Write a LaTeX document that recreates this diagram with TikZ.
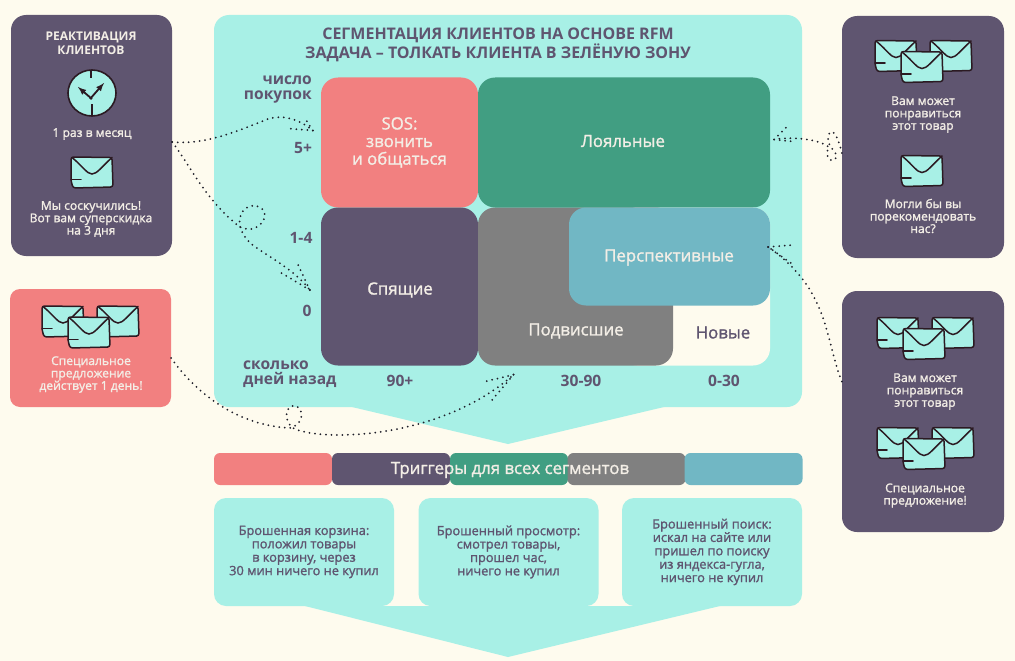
\documentclass[tikz,border=0pt]{standalone}
\usepackage{fontspec}
\setmainfont{Open Sans}[FakeBold=1.4]
\newfontfamily\hv{Open Sans}[UprightFont=* Bold]
\usetikzlibrary{calc}
\definecolor{bgc}{HTML}{FEFBEE}
\definecolor{mint}{HTML}{A8F0E6}
\definecolor{plum}{HTML}{5F5570}
\definecolor{coral}{HTML}{F28080}
\definecolor{teal}{HTML}{419E82}
\definecolor{graybox}{HTML}{808080}
\definecolor{bluebox}{HTML}{71B7C4}
\definecolor{ink}{HTML}{2B1A22}
\definecolor{lbl}{HTML}{F3EEE6}
\definecolor{dots}{HTML}{1F1F2A}
\tikzset{
  x=1pt,y=-1pt,
  panel/.style={rounded corners=15pt,inner sep=0pt,minimum width=#1},
  cell/.style={rounded corners=17pt,inner sep=0pt,text=lbl,align=center,font=\fontsize{16.8}{17.6}\selectfont},
  celltext/.style={text=lbl,inner sep=0pt,font=\fontsize{16.8}{18}\selectfont},
  bar/.style={rounded corners=6pt,inner sep=0pt,minimum width=118pt,minimum height=32pt},
  low/.style={rounded corners=12pt,fill=mint,inner sep=0pt,minimum width=180pt,minimum height=108pt,text=plum,align=center,font=\fontsize{12.8}{13.4}\selectfont},
  small/.style={text=lbl,align=center,inner sep=0pt,font=\fontsize{12.1}{12.4}\selectfont},
  axis/.style={text=plum,inner sep=0pt,font=\hv\fontsize{15.6}{15}\selectfont},
  dotline/.style={draw=dots,line width=2pt,line cap=round,dash pattern=on 0pt off 5.5pt},
  env/.pic={
    \draw[fill=mint,draw=ink,line width=1.5pt,rounded corners=2.5pt,line join=round]
      (-21,-15.5) -- (20,-15) -- (21,14.5) -- (-19,15.5) -- (-21,8) -- cycle;
    \draw[ink,line width=1.5pt,line cap=round]
      (-20,-15) .. controls (-9,-6) and (-5,1.5) .. (0,1.5) .. controls (5,1.5) and (10,-6) .. (20,-15);
    \draw[ink,line width=1.5pt,line cap=round] (-21,7) -- (-11,7);
  },
  triple/.pic={
    \pic at (-26,-11) {env};
    \pic at (29,-11) {env};
    \pic at (0,0) {env};
  }
}
\begin{document}
\begin{tikzpicture}
\useasboundingbox (0,0) rectangle (1015,661);
\fill[bgc] (0,0) rectangle (1015,661);
% main panel
\fill[mint,rounded corners=15pt] (214,407) -- (214,15) -- (802,15) -- (802,407) -- cycle;
\fill[mint] (352,407) -- (508,444) -- (664,407) -- cycle;
\node[text=plum,inner sep=0pt,align=center,font=\hv\fontsize{16}{18.5}\selectfont] (title) at (498,45) {СЕГМЕНТАЦИЯ КЛИЕНТОВ НА ОСНОВЕ RFM\\ЗАДАЧА – ТОЛКАТЬ КЛИЕНТА В ЗЕЛЁНУЮ ЗОНУ};
% side panels
\node[panel=161pt,fill=plum,minimum height=241pt] (lefttop) at (91.5,135.5) {};
\node[panel=161pt,fill=coral,minimum height=118pt,rounded corners=10pt] (leftred) at (90.5,348) {};
\node[panel=162pt,fill=plum,minimum height=242pt] (righttop) at (923,137) {};
\node[panel=162pt,fill=plum,minimum height=241pt] (rightlow) at (923,411.5) {};
% matrix
\node[cell,fill=coral,minimum width=157pt,minimum height=130pt] (sos) at (399.5,142.5) {SOS:\\звонить\\и общаться};
\node[cell,fill=teal,minimum width=292pt,minimum height=130pt] (loyal) at (624,142.5) {};
\node[celltext] (loyallbl) at (623,141) {Лояльные};
\node[cell,fill=plum,minimum width=157pt,minimum height=158pt] (sleep) at (399.5,286.5) {};
\node[celltext] (sleeplbl) at (400,290) {Спящие};
\node[cell,fill=bgc,minimum width=150pt,minimum height=158pt] (newc) at (695,286.5) {};
\node[cell,fill=graybox,minimum width=195pt,minimum height=158pt] (stuck) at (575.5,286.5) {};
\node[cell,fill=bluebox,minimum width=201pt,minimum height=98pt] (persp) at (669.5,256.5) {};
\node[celltext] (persplbl) at (669,257.5) {Перспективные};
\node[celltext] (stucklbl) at (576,331) {Подвисшие};
\node[celltext,text=plum] (newlbl) at (723,332.5) {Новые};
% axis labels
\node[axis,align=right,anchor=east] (purch) at (312,90) {число\\покупок};
\node[axis] (a5) at (303,148) {5+};
\node[axis] (a14) at (301,238) {1-4};
\node[axis] (a0) at (307,311) {0};
\node[axis,align=left,anchor=west] (days) at (243,374.5) {сколько\\дней назад};
\node[axis] (d90) at (400,381) {90+};
\node[axis] (d30) at (581,381) {30-90};
\node[axis] (d0) at (724,381) {0-30};
% bars
\node[bar,fill=coral] (b1) at (273,469) {};
\node[bar,fill=plum] (b2) at (391,469) {};
\node[bar,fill=teal] (b3) at (509,469) {};
\node[bar,fill=graybox] (b4) at (626.5,469) {};
\node[bar,fill=bluebox] (b5) at (743.5,469) {};
\node[celltext] (trig) at (510,470) {Триггеры для всех сегментов};
% lower boxes
\fill[mint] (305,606) -- (508,657) -- (720,606) -- cycle;
\node[low] (t1) at (304,552) {Брошенная корзина:\\положил товары\\в корзину, через\\30 мин ничего не купил};
\node[low] (t2) at (508.5,552) {Брошенный просмотр:\\смотрел товары,\\прошел час,\\ничего не купил};
\node[low] (t3) at (712,552) {Брошенный поиск:\\искал на сайте или\\пришел по поиску\\из яндекса-гугла,\\ничего не купил};
% left panel contents
\node[small,font=\hv\fontsize{12}{14}\selectfont] (react) at (91,43) {РЕАКТИВАЦИЯ\\КЛИЕНТОВ};
\draw[fill=mint,draw=ink,line width=1.6pt] (92,93) ellipse [x radius=24,y radius=23];
\draw[ink,line width=1.4pt] (91,70) -- (91,78) (92,104) -- (92,116);
\draw[ink,line width=1.8pt,-latex] (90,99) -- (104,83);
\draw[ink,line width=1.8pt,-latex] (92,99) -- (78,87);
\node[small] (once) at (92,134) {1 раз в месяц};
\pic at (92,172.5) {env};
\node[small] (miss) at (91,219) {Мы соскучились!\\Вот вам суперскидка\\на 3 дня};
% red panel
\pic at (89,332.5) {triple};
\node[small] (spec) at (91,374.5) {Специальное\\предложение\\действует 1 день!};
% right top
\pic at (922,67) {triple};
\node[small] (may1) at (923,114.5) {Вам может\\понравиться\\этот товар};
\pic at (922,171) {env};
\node[small] (rec) at (923,216) {Могли бы вы\\порекомендовать\\нас?};
% right low
\pic at (924,344) {triple};
\node[small] (may2) at (925,391.5) {Вам может\\понравиться\\этот товар};
\pic at (924,454) {triple};
\node[small] (spec2) at (925,495.5) {Специальное\\предложение!};
% connectors
\coordinate (s1) at ([yshift=-6.5pt]lefttop.east);
\coordinate (tip1) at ([shift={(-8pt,12pt)}]sos.west);
\draw[dotline] (s1) .. controls (205,145) and (235,132) .. (268,119) .. controls (285,114) and (300,120) .. (tip1);
\draw[dotline] (tip1) -- ++(-7,-11);
\draw[dotline] (tip1) -- ++(-25,-2);
\coordinate (tip2) at ([shift={(-11pt,-3.5pt)}]sleep.west);
\draw[dotline] (s1) .. controls (190,165) and (205,200) .. (240,227) .. controls (250,232) and (262,228) .. (265,216)
  .. controls (265,205) and (250,202) .. (243,211) .. controls (236,222) and (240,232) .. (250,243) .. controls (270,258) and (295,270) .. (tip2);
\draw[dotline] (tip2) -- ++(-13,-28);
\draw[dotline] (tip2) -- ++(-30,-18);
\coordinate (s3) at ([yshift=-10pt]leftred.east);
\coordinate (tip3) at ([shift={(-62pt,-9pt)}]stuck.south);
\draw[dotline] (s3) .. controls (190,385) and (230,425) .. (290,428) .. controls (303,425) and (305,410) .. (296,406)
  .. controls (285,404) and (283,420) .. (293,428) .. controls (320,442) and (440,440) .. (tip3);
\draw[dotline] (tip3) -- ++(-29,7);
\draw[dotline] (tip3) -- ++(-22,26);
\coordinate (s4) at ([yshift=-16pt]righttop.west);
\coordinate (tip4) at ([shift={(4pt,3pt)}]loyal.east);
\draw[dotline] (s4) .. controls (835,124) and (828,130) .. (828,140) .. controls (830,150) and (840,155) .. (836,158)
  .. controls (830,165) and (824,155) .. (829,147) .. controls (820,140) and (795,136) .. (tip4);
\draw[dotline] (tip4) -- ++(13,-13);
\draw[dotline] (tip4) -- ++(19,2);
\coordinate (s5) at ([yshift=30pt]rightlow.west);
\coordinate (tip5) at ([shift={(-2pt,9.5pt)}]persp.east);
\draw[dotline] (s5) .. controls (825,340) and (830,290) .. (tip5);
\draw[dotline] (tip5) -- ++(24,-2);
\draw[dotline] (tip5) -- ++(24,17);
\end{tikzpicture}
\end{document}
